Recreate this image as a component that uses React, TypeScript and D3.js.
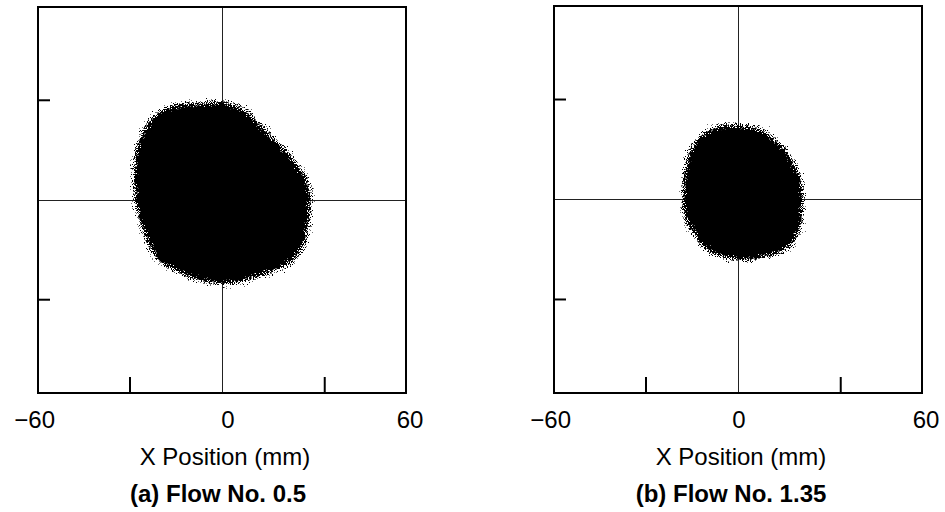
import React, { useRef, useEffect } from 'react';
import { select, scaleLinear, line, curveCardinalClosed } from 'd3';

const width = 945;
const height = 512;

// axis setup (mm)
const xDomain: [number, number] = [-60, 60];
const yDomain: [number, number] = [-60, 60];
const xTickLabels = [-60, 0, 60];
const xMinorTicks = [-30, 33.5];
const yMinorTicks = [-31, 31];
const xTitle = 'X Position (mm)';

const panelTitles = ['(a) Flow No. 0.5', '(b) Flow No. 1.35'];

// outline of the dense spray region (mm)
const blobA: [number, number][] = [
    [-7.2, 30.5], [1.0, 30.8], [8.2, 28.0], [14.7, 21.8], [21.2, 15.5],
    [26.4, 9.3], [29.3, 3.1], [29.0, -3.1], [28.4, -9.3], [27.1, -14.0],
    [24.8, -18.0], [20.5, -21.1], [12.4, -24.2], [4.2, -26.1], [-2.3, -26.4],
    [-8.8, -24.9], [-15.3, -22.4], [-20.9, -19.3], [-24.5, -14.0], [-26.7, -7.8],
    [-28.4, -1.6], [-29.0, 4.7], [-28.6, 14.0], [-26.5, 21.0], [-22.0, 27.0],
    [-15.0, 30.0]
];

const blobB: [number, number][] = [
    [-1.6, 23.6], [6.2, 22.7], [13.7, 18.0], [17.9, 12.7], [20.9, 6.5],
    [21.5, 0.3], [21.2, -5.9], [19.6, -12.1], [16.0, -15.9], [11.4, -17.7],
    [4.9, -19.0], [-1.6, -19.0], [-8.2, -17.4], [-12.4, -14.3], [-15.0, -10.5],
    [-17.0, -8.0], [-18.3, -3.7], [-18.3, 1.2], [-17.9, 8.7], [-16.3, 14.9],
    [-13.0, 19.6], [-8.2, 22.7], [-4.2, 23.6]
];

const panels = [
    { left: 38, right: 406, top: 7, bottom: 393, blob: blobA, title: panelTitles[0], zeroDx: 6, titleDx: -4, seed: 3 },
    { left: 554, right: 922, top: 6, bottom: 393, blob: blobB, title: panelTitles[1], zeroDx: 1, titleDx: -7, seed: 11 }
];

const font = '"Liberation Sans", Arial, sans-serif';
const fontSize = 24;

export default function App() {
    const svgRef = useRef<SVGSVGElement>(null);

    useEffect(() => {
        const svg = select(svgRef.current);
        svg.selectAll('*').remove();
        const defs = svg.append('defs');

        panels.forEach((p, i) => {
            const x = scaleLinear().domain(xDomain).range([p.left, p.right]);
            const y = scaleLinear().domain(yDomain).range([p.bottom, p.top]);
            const g = svg.append('g');

            // speckled edge: blurred shape thresholded against noise,
            // with an eroded copy on top so the core stays solid
            const f = defs.append('filter')
                .attr('id', 'speckle' + i)
                .attr('x', '-25%').attr('y', '-25%')
                .attr('width', '150%').attr('height', '150%');
            f.append('feGaussianBlur')
                .attr('in', 'SourceAlpha')
                .attr('stdDeviation', 6)
                .attr('result', 'blur');
            f.append('feTurbulence')
                .attr('type', 'fractalNoise')
                .attr('baseFrequency', 0.95)
                .attr('numOctaves', 2)
                .attr('seed', p.seed)
                .attr('result', 'noise');
            f.append('feComposite')
                .attr('in', 'blur').attr('in2', 'noise')
                .attr('operator', 'arithmetic')
                .attr('k1', 0).attr('k2', 3).attr('k3', -3.5).attr('k4', 0.43)
                .attr('result', 'mix');
            const ct = f.append('feComponentTransfer')
                .attr('in', 'mix').attr('result', 'mask');
            ct.append('feFuncA')
                .attr('type', 'discrete')
                .attr('tableValues', '0 0 0.55 1 1 1');
            f.append('feFlood').attr('flood-color', '#000').attr('result', 'ink');
            f.append('feComposite')
                .attr('in', 'ink').attr('in2', 'mask')
                .attr('operator', 'in')
                .attr('result', 'edge');
            f.append('feMorphology')
                .attr('in', 'SourceGraphic')
                .attr('operator', 'erode')
                .attr('radius', 5)
                .attr('result', 'core');
            const merge = f.append('feMerge');
            merge.append('feMergeNode').attr('in', 'edge');
            merge.append('feMergeNode').attr('in', 'core');

            // crosshair through the origin
            g.append('line')
                .attr('x1', x(0)).attr('x2', x(0))
                .attr('y1', p.top).attr('y2', p.bottom)
                .attr('stroke', '#222').attr('stroke-width', 1)
                .attr('shape-rendering', 'crispEdges');
            g.append('line')
                .attr('x1', p.left).attr('x2', p.right)
                .attr('y1', y(0)).attr('y2', y(0))
                .attr('stroke', '#222').attr('stroke-width', 1)
                .attr('shape-rendering', 'crispEdges');

            const outline = line<[number, number]>()
                .x(d => x(d[0]))
                .y(d => y(d[1]))
                .curve(curveCardinalClosed.tension(0.3));

            g.append('path')
                .attr('d', outline(p.blob))
                .attr('fill', '#000')
                .attr('filter', `url(#speckle${i})`);

            // frame
            g.append('rect')
                .attr('x', p.left).attr('y', p.top)
                .attr('width', p.right - p.left)
                .attr('height', p.bottom - p.top)
                .attr('fill', 'none')
                .attr('stroke', '#000')
                .attr('stroke-width', 2);

            // inward ticks
            g.selectAll('.ytick')
                .data(yMinorTicks)
                .enter()
                .append('line')
                .attr('x1', p.left).attr('x2', p.left + 12)
                .attr('y1', v => y(v)).attr('y2', v => y(v))
                .attr('stroke', '#000').attr('stroke-width', 2);
            g.selectAll('.xtick')
                .data(xMinorTicks)
                .enter()
                .append('line')
                .attr('x1', v => x(v)).attr('x2', v => x(v))
                .attr('y1', p.bottom).attr('y2', p.bottom - 16)
                .attr('stroke', '#000').attr('stroke-width', 2);

            // tick labels
            g.selectAll('.xlabel')
                .data(xTickLabels)
                .enter()
                .append('text')
                .attr('x', v => v < 0 ? x(v) + 17 : x(v) + (v === 0 ? p.zeroDx : 4))
                .attr('y', 428)
                .attr('text-anchor', v => v < 0 ? 'end' : 'middle')
                .attr('font-family', font)
                .attr('font-size', fontSize)
                .text(v => v < 0 ? '\u2212' + Math.abs(v) : String(v));

            g.append('text')
                .attr('x', x(0) + 3)
                .attr('y', 465)
                .attr('text-anchor', 'middle')
                .attr('font-family', font)
                .attr('font-size', fontSize)
                .text(xTitle);

            g.append('text')
                .attr('x', x(0) + p.titleDx)
                .attr('y', 502)
                .attr('text-anchor', 'middle')
                .attr('font-family', font)
                .attr('font-size', fontSize)
                .attr('font-weight', 'bold')
                .text(p.title);
        });
    }, []);

    return (
        <svg
            ref={svgRef}
            width={width}
            height={height}
            style={{ position: 'absolute', left: 0, top: 0, background: '#fff' }}
        />
    );
}
